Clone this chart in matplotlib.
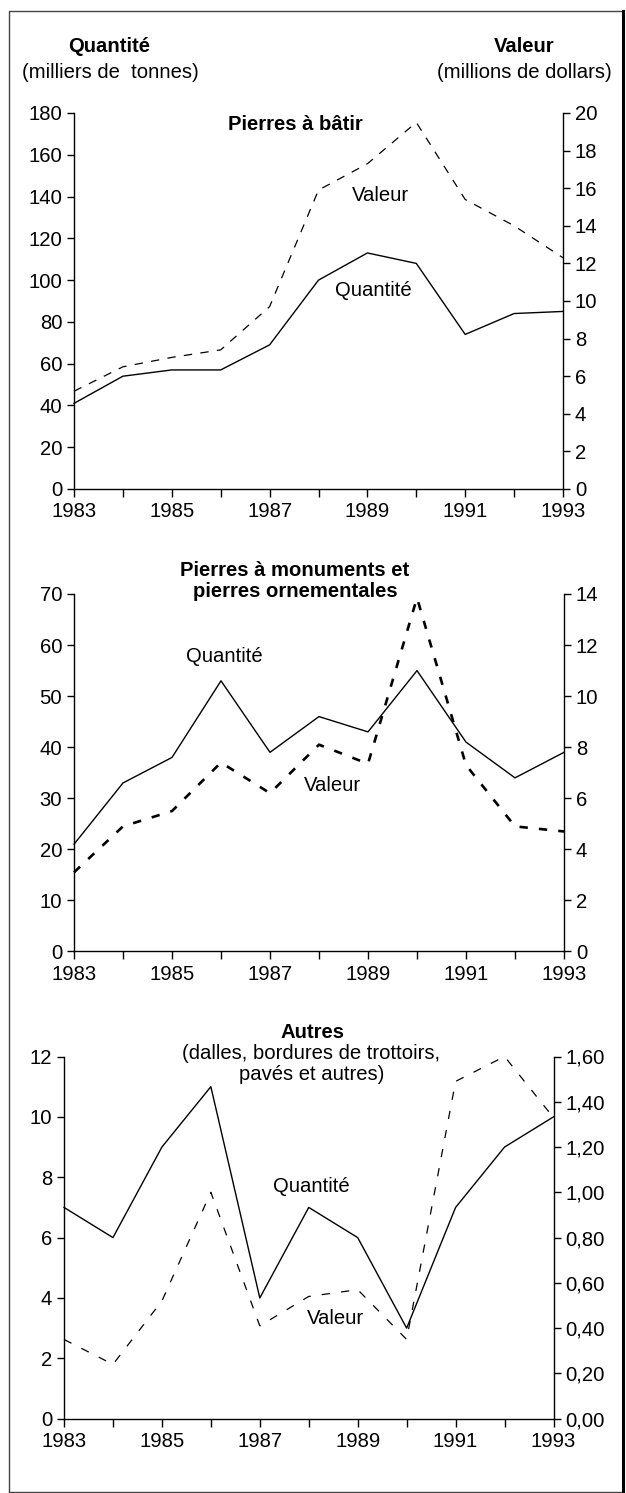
import matplotlib
matplotlib.use("Agg")
import matplotlib.pyplot as plt
from matplotlib.lines import Line2D
from matplotlib.ticker import FuncFormatter

plt.rcParams['font.family'] = ['Liberation Sans', 'DejaVu Sans']
plt.rcParams['font.size'] = 14.6
plt.rcParams['lines.scale_dashes'] = False

years = [1983, 1984, 1985, 1986, 1987, 1988, 1989, 1990, 1991, 1992, 1993]
year_ticks = [1983, 1985, 1987, 1989, 1991, 1993]

# Pierres à bâtir
batir_qte = [41, 54, 57, 57, 69, 100, 113, 108, 74, 84, 85]
batir_val = [5.2, 6.5, 7.0, 7.4, 9.7, 15.9, 17.3, 19.5, 15.4, 14.0, 12.3]

# Pierres à monuments et pierres ornementales
monu_qte = [21, 33, 38, 53, 39, 46, 43, 55, 41, 34, 39]
monu_val = [3.1, 4.9, 5.5, 7.4, 6.2, 8.1, 7.35, 13.85, 7.3, 4.9, 4.7]

# Autres
autres_qte = [7, 6, 9, 11, 4, 7, 6, 3, 7, 9, 10]
autres_val = [0.35, 0.24, 0.52, 1.00, 0.41, 0.54, 0.57, 0.35, 1.49, 1.60, 1.33]

W, H = 626, 1493
fig = plt.figure(figsize=(W / 100, H / 100), dpi=100)


def px_axes(l, r, t, b):
    return [l / W, 1 - b / H, (r - l) / W, (b - t) / H]


def style(ax, side):
    for s in ['top', 'left', 'right', 'bottom']:
        ax.spines[s].set_visible(False)
    ax.spines[side].set_visible(True)
    ax.spines[side].set_linewidth(1.0)
    ax.tick_params(axis='y', direction='out', length=5, width=1.0, pad=3.5, labelsize=14.6)


def panel(rect, qte, val, qmax, qstep, vmax, vstep, vfmt, val_lw, val_dash):
    ax = fig.add_axes(rect)
    ax2 = ax.twinx()
    ax.set_xlim(1983, 1993)
    ax.set_ylim(0, qmax)
    ax2.set_ylim(0, vmax)
    ax.set_yticks(range(0, qmax + 1, qstep))
    n = int(round(vmax / vstep))
    ax2.set_yticks([i * vstep for i in range(n + 1)])
    ax2.yaxis.set_major_formatter(FuncFormatter(vfmt))
    style(ax, 'left')
    ax.spines['bottom'].set_visible(True)
    ax.spines['bottom'].set_linewidth(1.0)
    style(ax2, 'right')
    ax.set_xticks(years)
    ax.set_xticklabels([str(y) if y in year_ticks else '' for y in years])
    ax.tick_params(axis='x', direction='out', length=6, width=1.0, pad=3.5, labelsize=14.6)
    ax.patch.set_visible(False)
    ax.plot(years, qte, color='black', lw=1.0, clip_on=False, zorder=3)
    ln, = ax2.plot(years, val, color='black', lw=val_lw, clip_on=False)
    ln.set_dashes(val_dash)
    return ax, ax2


ax1, ax1b = panel(px_axes(74, 563, 113, 489), batir_qte, batir_val, 180, 20, 20, 2,
                  lambda v, p: f"{v:.0f}", 0.9, (6, 6))
ax1.text(1987.52, 174.7, "Pierres à bâtir", ha='center', va='center', fontweight='bold')
ax1.text(1989.26, 140.3, "Valeur", ha='center', va='center')
ax1.text(1989.13, 94.8, "Quantité", ha='center', va='center')

ax2, ax2b = panel(px_axes(74, 564, 594, 951.5), monu_qte, monu_val, 70, 10, 14, 2,
                  lambda v, p: f"{v:.0f}", 1.9, (6, 8))
ax2.text(1987.51, 72.5, "Pierres à monuments et\npierres ornementales", ha='center',
         va='center', fontweight='bold', linespacing=1.1, clip_on=False)
ax2.text(1986.06, 57.7, "Quantité", ha='center', va='center')
ax2.text(1988.27, 32.6, "Valeur", ha='center', va='center')

ax3, ax3b = panel(px_axes(64, 553.5, 1056.5, 1418.7), autres_qte, autres_val, 12, 2, 1.6, 0.2,
                  lambda v, p: f"{v:.2f}".replace('.', ','), 0.9, (6, 8))
ax3.text(1988.07, 12.78, "Autres", ha='center', va='center', fontweight='bold', clip_on=False)
ax3.text(1988.05, 11.75, "(dalles, bordures de trottoirs,\npavés et autres)", ha='center',
         va='center', linespacing=1.1, clip_on=False)
ax3.text(1988.05, 7.68, "Quantité", ha='center', va='center')
ax3.text(1988.54, 3.33, "Valeur", ha='center', va='center')

# header labels
fig.text(109 / W, 1 - 47 / H, "Quantité", ha='center', va='center', fontweight='bold')
fig.text(110 / W, 1 - 72 / H, "(milliers de  tonnes)", ha='center', va='center')
fig.text(524 / W, 1 - 47 / H, "Valeur", ha='center', va='center', fontweight='bold')
fig.text(524 / W, 1 - 72 / H, "(millions de dollars)", ha='center', va='center')

# outer frame
x0, x1 = 9 / W, 622.5 / W
y0, y1 = 1 - 1491.5 / H, 1 - 11 / H
fig.add_artist(Line2D([x0, x0, x1], [y0, y1, y1], color='#444444', lw=1.0))
fig.add_artist(Line2D([x0, x1], [y0, y0], color='#444444', lw=1.0))
fig.add_artist(Line2D([x1, x1], [y0, y1], color='black', lw=2.2))

fig.savefig("out.png", dpi=100)
